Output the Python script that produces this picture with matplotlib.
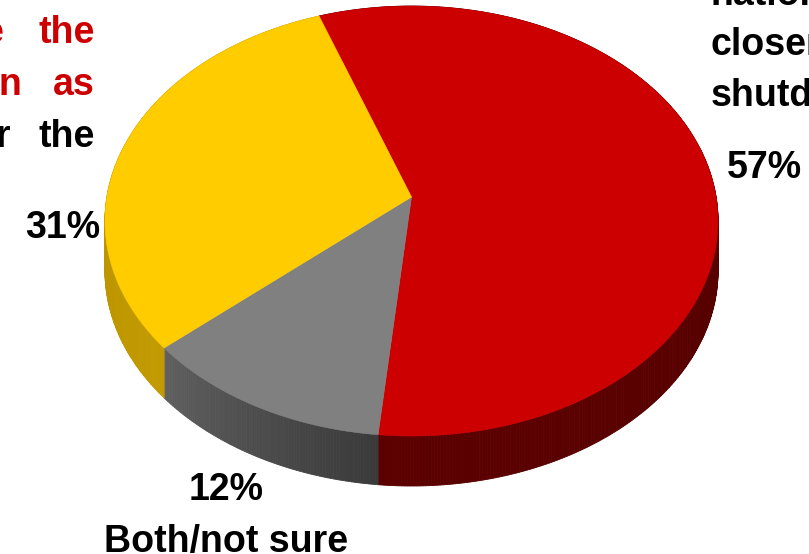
import numpy as np
import matplotlib
matplotlib.use('Agg')
import matplotlib.pyplot as plt
from matplotlib.patches import Polygon

plt.rcParams['font.family'] = ['Liberation Sans', 'DejaVu Sans']

# slices, clockwise from the red edge near the top
categories = ['Close', 'Both/not sure', 'Other']
values = [57, 12, 31]
percent_labels = ['57%', '12%', '31%']

top_colors = ['#CC0000', '#808080', '#FFCC00']
side_left = ['#4E0000', '#3A3A3A', '#C29A00']   # colour at start of each slice (clockwise)
side_right = ['#5C0000', '#606060', '#B08C00']  # colour at end of each slice

W, H = 809, 554
start_deg = -19.6   # clockwise from straight up
cx, cy = 411.5, 197  # centre of the pie as drawn (perspective)
sx, sy = 304.6, 212.3
k = 0.1117
depth = 50


def project(theta):
    # theta in degrees clockwise from up, unit circle -> tilted view
    t = np.radians(theta)
    u, v = np.sin(t), np.cos(t)
    w = 1 + k * v
    return cx + sx * u / w, cy - sy * v / w


fig = plt.figure(figsize=(W / 100, H / 100), dpi=100)
ax = fig.add_axes([0, 0, 1, 1])
ax.set_xlim(0, W)
ax.set_ylim(H, 0)
ax.axis('off')

angles = start_deg + np.concatenate([[0], np.cumsum(values)]) * 360 / sum(values)

# side wall first, the top surface covers what is hidden
for i in range(len(values)):
    a0, a1 = angles[i], angles[i + 1]
    n = int(a1 - a0) * 2
    edges = np.linspace(a0, a1, n + 1)
    c0 = np.array(matplotlib.colors.to_rgb(side_left[i]))
    c1 = np.array(matplotlib.colors.to_rgb(side_right[i]))
    for j in range(n):
        x, y = project(np.linspace(edges[j], edges[j + 1], 3))
        pts = np.r_[np.c_[x, y], np.c_[x, y + depth][::-1]]
        col = c0 + (c1 - c0) * j / n
        ax.add_patch(Polygon(pts, closed=True, fc=col, ec=col, lw=0.6))

for i in range(len(values)):
    x, y = project(np.linspace(angles[i], angles[i + 1], 200))
    pts = np.r_[[[cx, cy]], np.c_[x, y]]
    ax.add_patch(Polygon(pts, closed=True, fc=top_colors[i], ec=top_colors[i], lw=0.4))

fs = 27.0
txt = dict(fontsize=fs, fontweight='bold', va='baseline')
ax.text(764, 178, percent_labels[0], ha='center', color='black', **txt)
ax.text(226, 500, percent_labels[1], ha='center', color='black', **txt)
ax.text(100, 238, percent_labels[2], ha='right', color='black', **txt)
ax.text(226, 552, categories[1], ha='center', color='black', **txt)

# left block, justified and cut off by the edge of the picture
ax.text(3, 43, 'e', ha='right', color='#CC0000', **txt)
ax.text(95, 43, 'the', ha='right', color='#CC0000', **txt)
ax.text(21, 95, 'n', ha='right', color='#CC0000', **txt)
ax.text(95, 95, 'as', ha='right', color='#CC0000', **txt)
ax.text(10, 147, 'r', ha='right', color='black', **txt)
ax.text(95, 147, 'the', ha='right', color='black', **txt)

# right block, cut off too
ax.text(711, 5, 'nation', ha='left', color='black', **txt)
ax.text(711, 55, 'closer', ha='left', color='black', **txt)
ax.text(711, 106, 'shutdown', ha='left', color='black', **txt)

fig.savefig('out.png', dpi=100)
